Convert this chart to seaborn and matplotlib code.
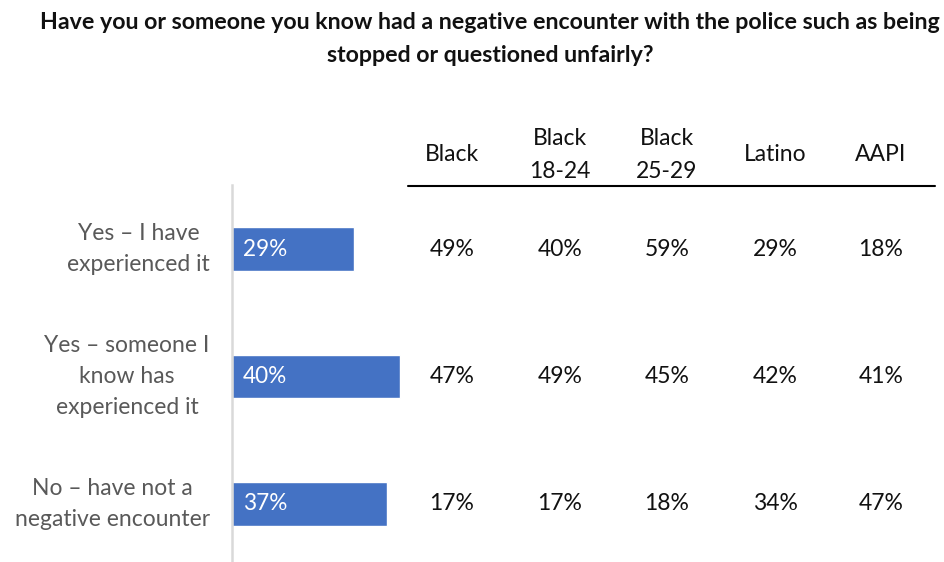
import matplotlib
matplotlib.use("Agg")
import matplotlib.pyplot as plt
import matplotlib.transforms as mtransforms
import seaborn as sns
import pandas as pd
from matplotlib.lines import Line2D

sns.set_style("white")
plt.rcParams['font.family'] = ['Lato', 'DejaVu Sans']

title = "Have you or someone you know had a negative encounter with the police such as being\nstopped or questioned unfairly?"
categories = ["Yes – I have\nexperienced it",
              "Yes – someone I\nknow has\nexperienced it",
              "No – have not a\nnegative encounter"]
overall = [29, 40, 37]
groups = ["Black", "Black\n18-24", "Black\n25-29", "Latino", "AAPI"]
black = [49, 47, 17]
black_18_24 = [40, 49, 17]
black_25_29 = [59, 45, 18]
latino = [29, 42, 34]
aapi = [18, 41, 47]
group_values = [black, black_18_24, black_25_29, latino, aapi]

df = pd.DataFrame({"category": categories, "value": overall})

W, H = 945, 562
fig = plt.figure(figsize=(W / 100, H / 100), dpi=100)
ax_left, ax_top = 232, 185
ax = fig.add_axes([ax_left / W, 0, 1 - ax_left / W, 1 - ax_top / H])

sns.barplot(data=df, y="category", x="value", color="#4472C4", saturation=1,
            width=0.345, ax=ax, orient="h")

px_per_pct = 4.2
ax.set_xlim(0, (W - ax_left) / px_per_pct)
ax.set_ylim(2.455, -0.502)

for i, v in enumerate(overall):
    ax.text(11 / px_per_pct, i, f"{v}%", color="white", fontsize=16.3,
            va="center", ha="left")

ax.set_xlabel("")
ax.set_ylabel("")
ax.set_xticks([])
ax.set_yticks(range(len(categories)))
ax.set_yticklabels(categories, fontsize=16.5, color="#595959",
                   multialignment="center", linespacing=1.56, va="center")
ax.tick_params(axis="y", length=0, pad=16)
for s in ["top", "right", "bottom"]:
    ax.spines[s].set_visible(False)
ax.spines["left"].set_color("#d9d9d9")
ax.spines["left"].set_linewidth(1.8)

# table
blend = mtransforms.blended_transform_factory(fig.transFigure, ax.transData)
col_px = [452, 560, 667, 775, 881]
for cx, g, vals in zip(col_px, groups, group_values):
    fx = cx / W
    fig.text(fx, 1 - 155 / H, g, fontsize=16.5, ha="center", va="center",
             multialignment="center", linespacing=1.7, color="#111111")
    for i, v in enumerate(vals):
        ax.text(fx, i, f"{v}%", fontsize=16.5, ha="center", va="center",
                color="#111111", transform=blend)

fig.add_artist(Line2D([408 / W, 935 / W], [1 - 186 / H, 1 - 186 / H],
                      color="black", linewidth=1.5, transform=fig.transFigure))

fig.text(490 / W, 1 - 39 / H, title, fontsize=16.7, fontweight="bold",
         ha="center", va="center", multialignment="center", linespacing=1.74,
         color="#111111")

fig.savefig("out.png", dpi=100)
